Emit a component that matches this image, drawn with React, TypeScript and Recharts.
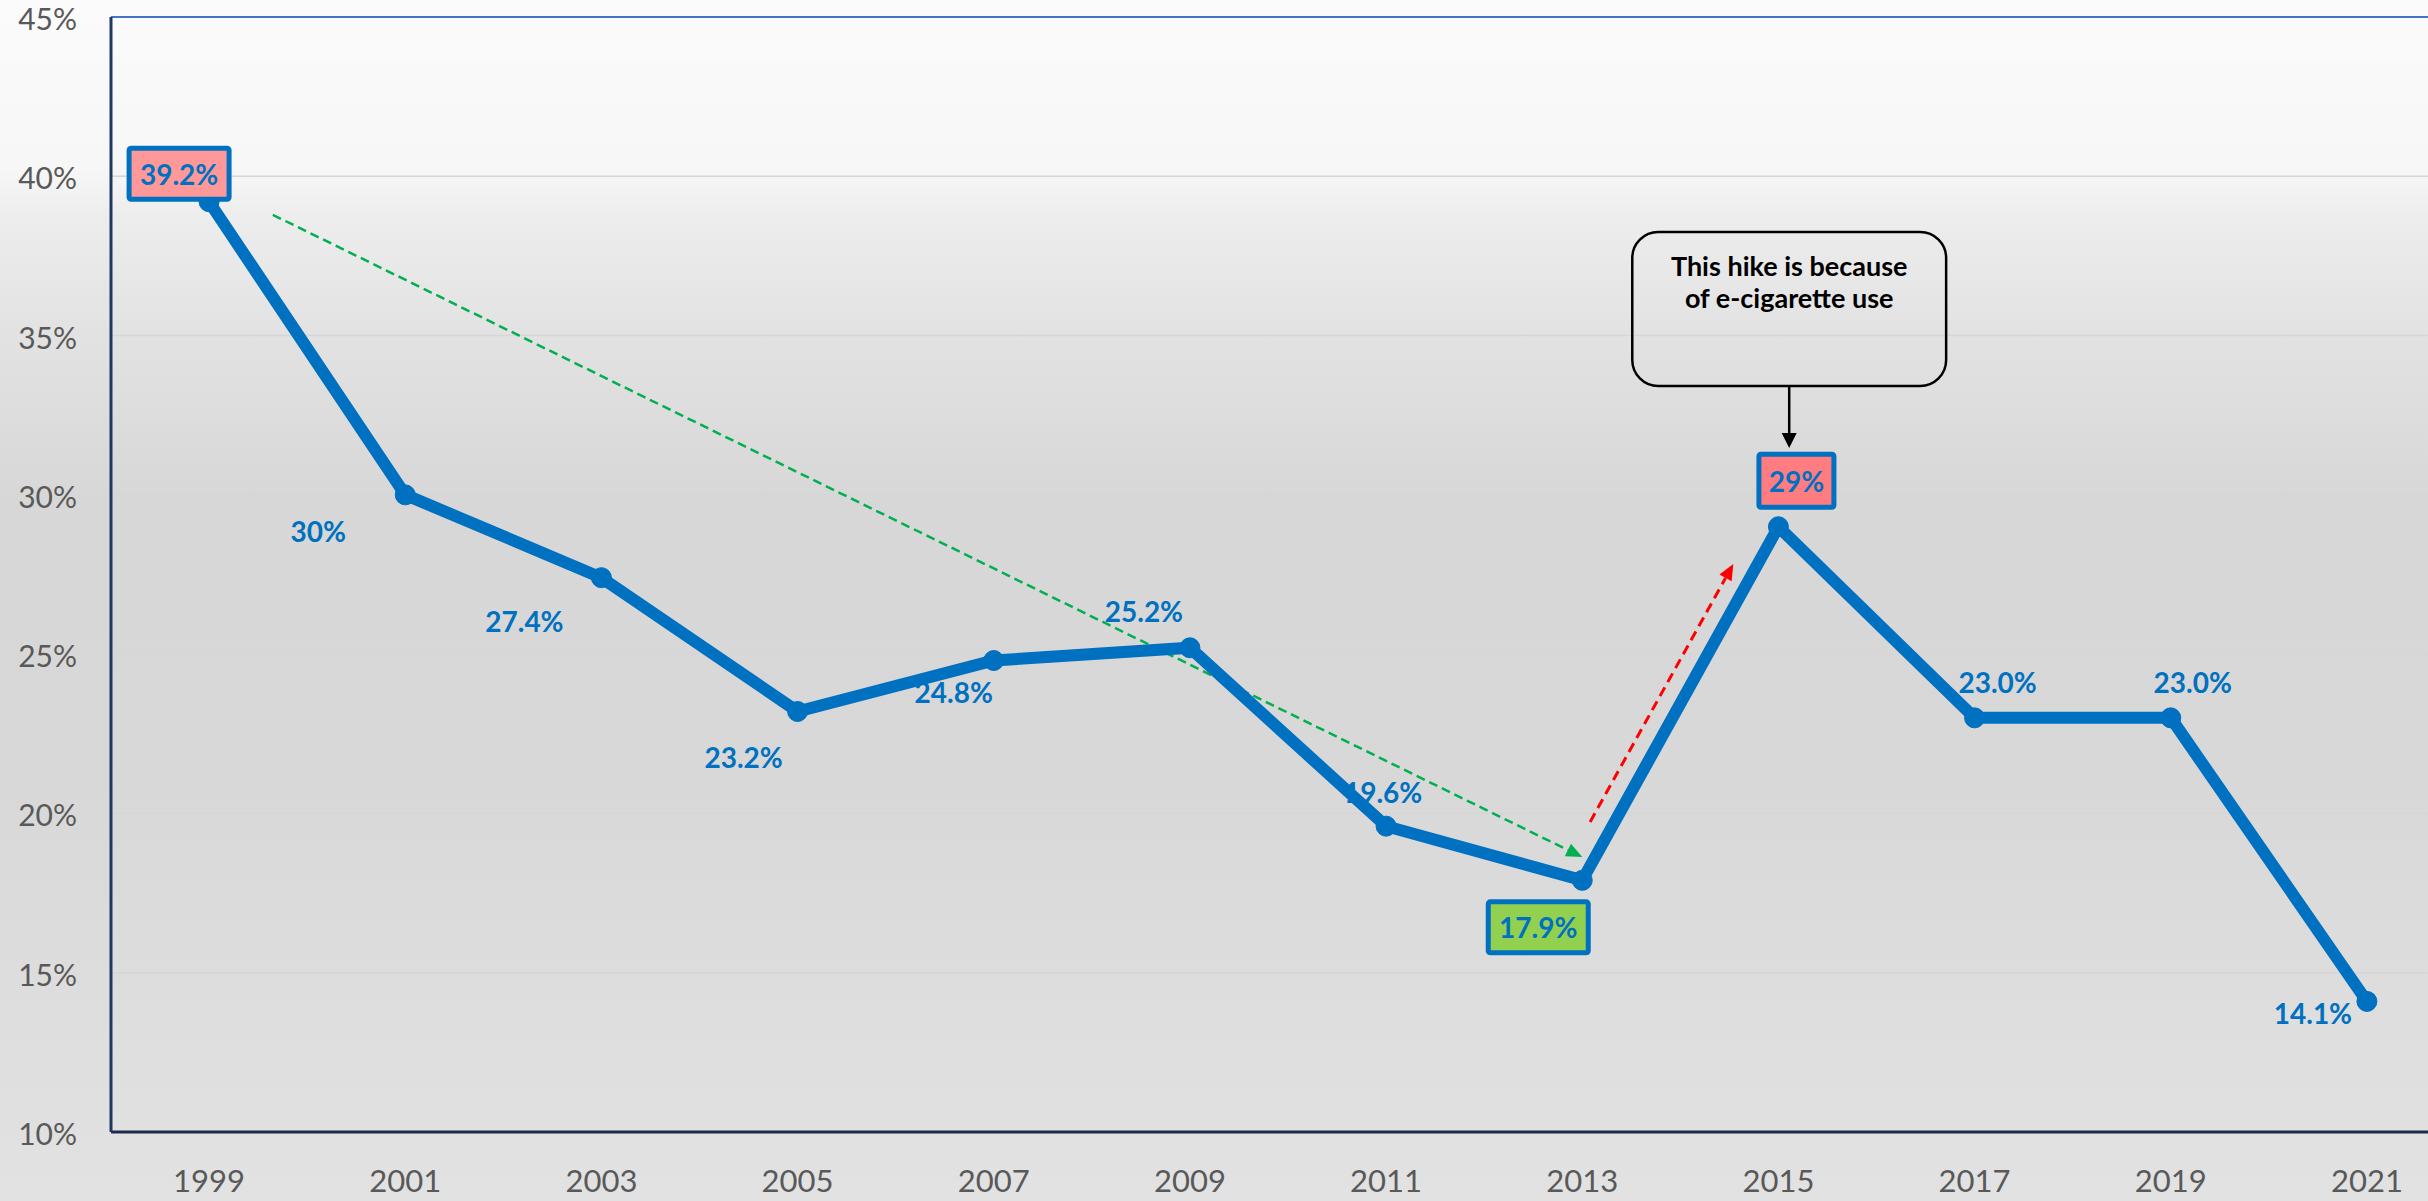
import React from 'react';
import {
  LineChart,
  Line,
  XAxis,
  YAxis,
  CartesianGrid,
  ReferenceLine,
  ReferenceArea,
} from 'recharts';

// ---------- data ----------
const years = [1999, 2001, 2003, 2005, 2007, 2009, 2011, 2013, 2015, 2017, 2019, 2021];
const rates = [39.2, 30, 27.4, 23.2, 24.8, 25.2, 19.6, 17.9, 29, 23.0, 23.0, 14.1];
const labels = ['39.2%', '30%', '27.4%', '23.2%', '24.8%', '25.2%', '19.6%', '17.9%', '29%', '23.0%', '23.0%', '14.1%'];
const yTicks = [10, 15, 20, 25, 30, 35, 40, 45];
const calloutLines = ['This hike is because', 'of e-cigarette use'];

const data = years.map((year, i) => ({ year, rate: rates[i], label: labels[i] }));

// ---------- styling ----------
const FONT = 'Lato, "Open Sans", "DejaVu Sans", sans-serif';
const BLUE = '#0070C0';
const labelOffsets: [number, number][] = [
  [-30, -28], [-87, 36], [-77, 43], [-54, 46], [-40, 31], [-46, -37],
  [-3, -34], [-44, 47], [18, -46], [23, -36], [22, -36], [-54, 12],
];
const boxes: Record<number, { w: number; h: number; fill: string }> = {
  0: { w: 100, h: 51, fill: '#FF9999' },
  7: { w: 100, h: 51, fill: '#92D050' },
  8: { w: 75, h: 53, fill: '#FF7C80' },
};

const renderDot = (props: any) => {
  const { cx, cy, index } = props;
  if (cx == null || cy == null) return <g key={`d${index}`} />;
  const [dx, dy] = labelOffsets[index];
  const lx = cx + dx;
  const ly = cy + dy;
  const box = boxes[index];
  return (
    <g key={`d${index}`}>
      <circle cx={cx} cy={cy} r={10} fill={BLUE} stroke={BLUE} />
      {box && (
        <rect
          x={lx - box.w / 2}
          y={ly - box.h / 2}
          width={box.w}
          height={box.h}
          rx={2}
          fill={box.fill}
          stroke={BLUE}
          strokeWidth={5}
        />
      )}
      <text
        x={lx}
        y={ly}
        textAnchor="middle"
        dominantBaseline="central"
        fontFamily={FONT}
        fontWeight={700}
        fontSize={28}
        fill={BLUE}
      >
        {labels[index]}
      </text>
    </g>
  );
};

const arrowShape = (color: string, dash: string | undefined, width: number, len: number, half: number) =>
  (props: any) => {
    const { x1, y1, x2, y2 } = props;
    const a = Math.atan2(y2 - y1, x2 - x1);
    const c = Math.cos(a);
    const s = Math.sin(a);
    const bx = x2 - len * c;
    const by = y2 - len * s;
    const pts = `${x2},${y2} ${bx - half * s},${by + half * c} ${bx + half * s},${by - half * c}`;
    return (
      <g>
        <line x1={x1} y1={y1} x2={bx} y2={by} stroke={color} strokeWidth={width} strokeDasharray={dash} />
        <polygon points={pts} fill={color} />
      </g>
    );
  };

const renderYTick = (props: any) => {
  const { x, y, payload } = props;
  return (
    <text x={x} y={y + 1} textAnchor="end" dominantBaseline="central" fontFamily={FONT} fontSize={30} fill="#595959">
      {`${payload.value}%`}
    </text>
  );
};

const renderXTick = (props: any) => {
  const { x, y, payload } = props;
  return (
    <text x={x} y={y} textAnchor="middle" dominantBaseline="central" fontFamily={FONT} fontSize={31} fill="#595959">
      {payload.value}
    </text>
  );
};

const renderCallout = (props: any) => {
  const { x, y, width, height } = props;
  const cx = x + width / 2;
  return (
    <g>
      <rect x={x} y={y} width={width} height={height} rx={26} fill="none" stroke="#000" strokeWidth={2.5} />
      <text x={cx} y={y + 33} textAnchor="middle" dominantBaseline="central" fontFamily={FONT} fontWeight={700} fontSize={27} fill="#000">
        {calloutLines[0]}
      </text>
      <text x={cx} y={y + 65} textAnchor="middle" dominantBaseline="central" fontFamily={FONT} fontWeight={700} fontSize={27} fill="#000">
        {calloutLines[1]}
      </text>
    </g>
  );
};

export default function App() {
  return (
    <div
      style={{
        position: 'absolute',
        left: 0,
        top: 0,
        width: 2428,
        height: 1201,
        overflow: 'hidden',
        background:
          'linear-gradient(to bottom, #FBFBFB 0%, #F7F7F7 14%, #EDEDED 18%, #E2E2E2 28%, #D7D7D7 42%, #D8D8D8 65%, #DEDEDE 85%, #E2E2E2 100%)',
      }}
    >
      <LineChart width={2465} height={1201} data={data} margin={{ top: 17, right: 0, bottom: 0, left: 0 }}>
        <CartesianGrid vertical={false} stroke="#D6D6D6" strokeWidth={1.5} />
        <XAxis
          dataKey="year"
          type="number"
          domain={[1998, 2022]}
          ticks={years}
          interval={0}
          height={69}
          tickSize={0}
          tickMargin={48}
          tickLine={false}
          axisLine={{ stroke: '#1C2A48', strokeWidth: 3 }}
          tick={renderXTick}
        />
        <YAxis
          type="number"
          domain={[10, 45]}
          ticks={yTicks}
          interval={0}
          width={111}
          tickSize={0}
          tickMargin={34}
          tickLine={false}
          axisLine={{ stroke: '#1F3864', strokeWidth: 3 }}
          tick={renderYTick}
        />
        <ReferenceLine y={45} stroke="#4472C4" strokeWidth={2} />
        <ReferenceLine
          segment={[{ x: 1999.65, y: 38.79 }, { x: 2013.0, y: 18.63 }]}
          shape={arrowShape('#00B050', '9 5', 2.5, 16, 7)}
        />
        <ReferenceLine
          segment={[{ x: 2013.08, y: 19.73 }, { x: 2014.54, y: 27.83 }]}
          shape={arrowShape('#FF0000', '10 6', 3, 16, 7)}
        />
        <ReferenceArea x1={2013.51} x2={2016.71} y1={33.42} y2={38.25} shape={renderCallout} />
        <ReferenceLine
          segment={[{ x: 2015.11, y: 33.42 }, { x: 2015.11, y: 31.47 }]}
          shape={arrowShape('#000000', undefined, 2.5, 15, 7.5)}
        />
        <Line
          type="linear"
          dataKey="rate"
          stroke={BLUE}
          strokeWidth={12}
          dot={renderDot}
          activeDot={false}
          isAnimationActive={false}
        />
      </LineChart>
    </div>
  );
}
